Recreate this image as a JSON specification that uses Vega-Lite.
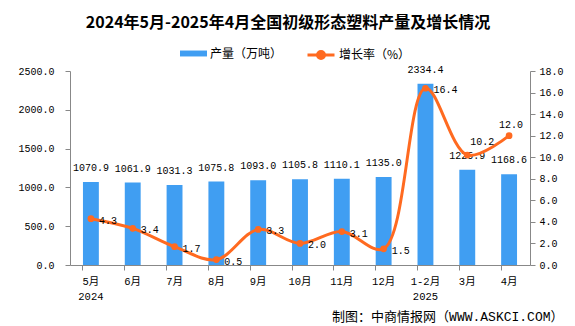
{
  "$schema": "https://vega.github.io/schema/vega-lite/v6.json",
  "width": 460,
  "height": 194,
  "autosize": {"type": "none"},
  "padding": {"left": 70, "top": 71, "right": 45, "bottom": 61},
  "background": "white",
  "title": {
    "text": "2024年5月-2025年4月全国初级形态塑料产量及增长情况",
    "font": "Noto Sans CJK SC",
    "fontSize": 16,
    "fontWeight": "bold",
    "color": "#000000",
    "anchor": "middle",
    "dx": -12,
    "offset": 9
  },
  "data": {
    "values": [
      {"month": "5月|2024", "output": 1070.9, "growth": 4.3},
      {"month": "6月", "output": 1061.9, "growth": 3.4},
      {"month": "7月", "output": 1031.3, "growth": 1.7},
      {"month": "8月", "output": 1075.8, "growth": 0.5},
      {"month": "9月", "output": 1093.0, "growth": 3.3},
      {"month": "10月", "output": 1105.8, "growth": 2.0},
      {"month": "11月", "output": 1110.1, "growth": 3.1},
      {"month": "12月", "output": 1135.0, "growth": 1.5},
      {"month": "1-2月|2025", "output": 2334.4, "growth": 16.4},
      {"month": "3月", "output": 1225.9, "growth": 10.2},
      {"month": "4月", "output": 1168.6, "growth": 12.0}
    ]
  },
  "encoding": {
    "x": {
      "field": "month",
      "type": "ordinal",
      "sort": null,
      "scale": {"paddingInner": 0.62, "paddingOuter": 0.31},
      "axis": {
        "title": "制图：中商情报网（WWW.ASKCI.COM）",
        "titleFont": "Liberation Mono, Noto Sans CJK SC",
        "titleFontSize": 13,
        "titleFontWeight": "normal",
        "titleColor": "#000000",
        "titleAlign": "right",
        "titleAnchor": "end",
        "titleBaseline": "middle",
        "titleX": 493,
        "titleY": 51,
        "labelExpr": "split(datum.value, '|')",
        "labelAngle": 0,
        "labelFont": "Liberation Mono, Noto Sans CJK SC",
        "labelFontSize": 10.5,
        "labelColor": "#000000",
        "labelLineHeight": 15,
        "labelPadding": 6,
        "bandPosition": 0,
        "tickSize": 5,
        "tickColor": "#888888",
        "domainColor": "#888888",
        "grid": false
      }
    }
  },
  "layer": [
    {
      "encoding": {
        "y": {
          "field": "output",
          "type": "quantitative",
          "scale": {"domain": [0, 2500], "nice": false},
          "axis": {
            "orient": "left",
            "title": null,
            "values": [0, 500, 1000, 1500, 2000, 2500],
            "format": ".1f",
            "grid": false,
            "labelFont": "Liberation Mono",
            "labelFontSize": 10,
            "labelColor": "#000000",
            "labelPadding": 11,
            "tickSize": 5,
            "tickColor": "#888888",
            "domainColor": "#888888"
          }
        }
      },
      "layer": [
        {
          "mark": {"type": "bar"},
          "encoding": {
            "fill": {
              "datum": "产量（万吨）",
              "scale": {"range": ["#409EF2"]},
              "legend": {
                "orient": "none",
                "legendX": 110,
                "legendY": -31,
                "title": null,
                "padding": 0,
                "symbolType": "M-1,-0.22H1V0.22H-1Z",
                "symbolSize": 729,
                "symbolStrokeWidth": 0,
                "labelFont": "Noto Sans CJK SC",
                "labelFontSize": 12,
                "labelColor": "#000000",
                "labelOffset": 3
              }
            }
          }
        },
        {
          "mark": {
            "type": "text",
            "font": "Liberation Mono",
            "fontSize": 10,
            "color": "#000000",
            "baseline": "middle",
            "dy": -14
          },
          "encoding": {"text": {"field": "output", "type": "quantitative", "format": ".1f"}}
        }
      ]
    },
    {
      "encoding": {
        "y": {
          "field": "growth",
          "type": "quantitative",
          "scale": {"domain": [0, 18], "nice": false},
          "axis": {
            "orient": "right",
            "title": null,
            "values": [0, 2, 4, 6, 8, 10, 12, 14, 16, 18],
            "format": ".1f",
            "grid": false,
            "labelFont": "Liberation Mono",
            "labelFontSize": 10,
            "labelColor": "#000000",
            "labelPadding": 4,
            "tickSize": 5,
            "tickColor": "#888888",
            "domainColor": "#888888"
          }
        }
      },
      "layer": [
        {
          "mark": {"type": "line", "interpolate": "catmull-rom", "strokeWidth": 3},
          "encoding": {
            "stroke": {
              "datum": "增长率（%）",
              "scale": {"range": ["#FF6A20"]},
              "legend": {
                "orient": "none",
                "legendX": 236,
                "legendY": -31,
                "title": null,
                "padding": 0,
                "symbolType": "M-1,0H1M-0.26,0A0.26,0.26,0,1,1,0.26,0A0.26,0.26,0,1,1,-0.26,0",
                "symbolSize": 729,
                "symbolStrokeWidth": 3,
                "symbolFillColor": "#FF6A20",
                "labelFont": "Noto Sans CJK SC",
                "labelFontSize": 12,
                "labelColor": "#000000",
                "labelOffset": 3
              }
            }
          }
        },
        {
          "mark": {"type": "point", "filled": true, "size": 45, "color": "#FF6A20", "opacity": 1}
        },
        {
          "transform": [{"filter": "datum.month != '3月' && datum.month != '4月'"}],
          "mark": {
            "type": "text",
            "font": "Liberation Mono",
            "fontSize": 10,
            "color": "#000000",
            "align": "left",
            "baseline": "middle",
            "dx": 8,
            "dy": 2
          },
          "encoding": {"text": {"field": "growth", "type": "quantitative", "format": ".1f"}}
        },
        {
          "transform": [{"filter": "datum.month == '3月'"}],
          "mark": {
            "type": "text",
            "font": "Liberation Mono",
            "fontSize": 10,
            "color": "#000000",
            "align": "center",
            "baseline": "middle",
            "dx": 15,
            "dy": -13
          },
          "encoding": {"text": {"field": "growth", "type": "quantitative", "format": ".1f"}}
        },
        {
          "transform": [{"filter": "datum.month == '4月'"}],
          "mark": {
            "type": "text",
            "font": "Liberation Mono",
            "fontSize": 10,
            "color": "#000000",
            "align": "center",
            "baseline": "middle",
            "dx": 2,
            "dy": -11
          },
          "encoding": {"text": {"field": "growth", "type": "quantitative", "format": ".1f"}}
        }
      ]
    }
  ],
  "resolve": {"scale": {"y": "independent"}},
  "config": {"view": {"stroke": null}}
}
